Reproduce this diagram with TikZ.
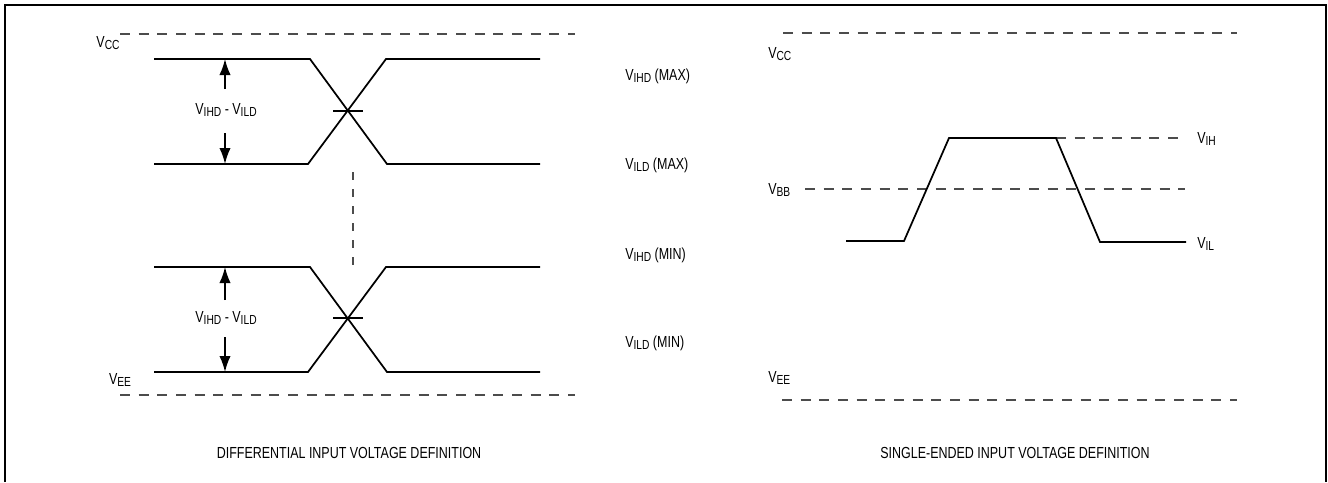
\documentclass[tikz,border=0pt]{standalone}
\usepackage{fontspec}
\setmainfont[FakeStretch=0.78]{Liberation Sans}
\usepackage{graphicx}
\usetikzlibrary{arrows.meta}
\newcommand{\vsub}[1]{V\raisebox{-0.3ex}{\scalebox{0.82}{#1}}}

\begin{document}
\begin{tikzpicture}[x=0.75pt,y=-0.75pt,
    sig/.style={line width=1.3pt},
    lvl/.style={line width=0.8pt,black!70,dash pattern=on 7.5pt off 6.5pt},
    lbl/.style={inner sep=0pt,font=\fontsize{12}{14}\selectfont},
    dimarr/.style={line width=1.3pt,-{Latex[length=12pt,width=8.5pt]}}]
  \useasboundingbox (0,0) rectangle (1328,482);
  \draw[line width=1.6pt] (5,482) -- (5,5) -- (1326,5) -- (1326,482);

  % differential
  \draw[lvl] (120,34) -- (575,34);
  \draw[lvl] (120,395) -- (575,395);
  \draw[lvl,dash pattern=on 6pt off 6.75pt] (353,172) -- (353,266);
  \draw[sig] (154,59) -- (310,59) -- (387,164) -- (540,164);
  \draw[sig] (154,164) -- (308,164) -- (386,59) -- (540,59);
  \draw[sig] (154,267) -- (310,267) -- (387,372) -- (540,372);
  \draw[sig] (154,372) -- (308,372) -- (386,267) -- (540,267);
  \draw[line width=1pt] (333,111) -- (363,111);
  \draw[line width=1pt] (333,318) -- (363,318);
  \draw[dimarr] (225,89) -- (225,59);
  \draw[dimarr] (225,133) -- (225,164);
  \draw[dimarr] (225,300) -- (225,267);
  \draw[dimarr] (225,337) -- (225,372);
  \node[lbl] (vcca) at (108,43) {V\raisebox{-0.3ex}{\scalebox{0.82}{CC}}};
  \node[lbl] (veea) at (120,380) {\vsub{EE}};
  \node[lbl] (swinga) at (226,110) {\vsub{IHD} - \vsub{ILD}};
  \node[lbl] (swingb) at (226,318) {\vsub{IHD} - \vsub{ILD}};
  \node[lbl,anchor=west] (ihdmax) at (625,76) {\vsub{IHD} (MAX)};
  \node[lbl,anchor=west] (ildmax) at (625,165) {\vsub{ILD} (MAX)};
  \node[lbl,anchor=west] (ihdmin) at (625,255) {\vsub{IHD} (MIN)};
  \node[lbl,anchor=west] (ildmin) at (625,343) {\vsub{ILD} (MIN)};
  \node[lbl] (capa) at (349,453) {DIFFERENTIAL INPUT VOLTAGE DEFINITION};

  % single-ended
  \draw[lvl] (783,33) -- (1237,33);
  \draw[lvl] (782,400) -- (1237,400);
  \draw[lvl] (805,189) -- (1185,189);
  \draw[lvl] (1056,138) -- (1180,138);
  \draw[sig] (846,241) -- (904,241) -- (949,138) -- (1056,138) -- (1100,242) -- (1186,242);
  \node[lbl,anchor=west] (vccb) at (768,54) {\vsub{CC}};
  \node[lbl,anchor=west] (vbb) at (768,190) {\vsub{BB}};
  \node[lbl,anchor=west] (veeb) at (768,378) {\vsub{EE}};
  \node[lbl,anchor=west] (vih) at (1197,139) {\vsub{IH}};
  \node[lbl,anchor=west] (vil) at (1197,244) {\vsub{IL}};
  \node[lbl] (capb) at (1015,453) {SINGLE-ENDED INPUT VOLTAGE DEFINITION};
\end{tikzpicture}
\end{document}
